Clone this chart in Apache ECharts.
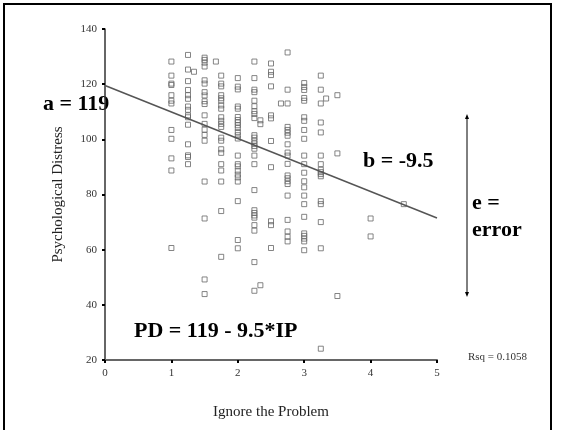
<!DOCTYPE html>
<html>
<head>
<meta charset="utf-8">
<script src="https://cdn.jsdelivr.net/npm/echarts@6/dist/echarts.min.js"></script>
<style>
  html, body { margin: 0; padding: 0; background: #fff; }
  #chart { width: 569px; height: 430px; }
</style>
</head>
<body>
<div id="chart"></div>
<script>
// Ignore the Problem (x) vs Psychological Distress (y), one array per x column
const ip100 = [128.2, 123.1, 120.2, 119.7, 116.0, 114.0, 113.0, 103.4, 100.2, 93.1, 88.7, 60.6]
const ip125 = [130.6, 125.3, 121.1, 117.9, 116.0, 114.7, 111.9, 110.7, 108.7, 108.0, 105.3, 98.2, 94.2, 93.6, 91.0]
const ip133 = [124.5]
const ip150 = [129.6, 128.8, 127.8, 126.4, 121.4, 120.2, 117.1, 115.9, 113.8, 112.8, 108.7, 105.6, 103.5, 101.6, 99.5, 84.7, 71.3, 49.2, 43.9]
const ip167 = [128.2]
const ip175 = [123.1, 120.2, 119.2, 116.0, 114.9, 114.0, 112.3, 111.1, 108.0, 106.7, 105.6, 104.5, 100.6, 99.5, 96.4, 95.1, 91.0, 88.7, 84.7, 74.0, 57.4]
const ip200 = [122.2, 119.1, 118.1, 111.9, 111.1, 108.1, 107.0, 106.1, 105.1, 104.1, 102.6, 101.5, 100.3, 94.1, 91.0, 90.2, 88.6, 87.2, 86.2, 84.7, 77.6, 63.5, 60.5]
const ip225 = [128.2, 122.2, 118.0, 117.1, 114.0, 112.0, 110.2, 109.2, 107.7, 101.5, 100.6, 99.5, 98.5, 97.6, 96.6, 94.1, 91.0, 81.6, 74.3, 73.3, 72.4, 71.6, 68.9, 66.9, 55.5, 45.1]
const ip233 = [106.9, 105.5, 47.1]
const ip250 = [127.5, 124.5, 123.3, 119.2, 108.7, 107.6, 99.4, 89.9, 70.3, 68.9, 60.6]
const ip267 = [113.0]
const ip275 = [131.5, 118.0, 113.0, 104.5, 103.4, 102.4, 101.3, 98.2, 95.2, 94.1, 91.1, 86.9, 85.9, 84.8, 83.8, 79.6, 70.8, 66.6, 64.7, 63.0]
const ip300 = [120.4, 119.0, 117.9, 115.0, 114.0, 108.0, 106.7, 103.4, 100.2, 94.1, 91.0, 87.9, 84.8, 82.6, 79.6, 76.5, 71.9, 65.9, 65.0, 64.0, 63.0, 59.8]
const ip325 = [123.1, 118.0, 113.0, 106.1, 102.5, 94.1, 91.0, 89.0, 88.1, 87.4, 86.6, 77.6, 76.5, 70.0, 60.5, 24.1]
const ip333 = [114.8]
const ip350 = [116.0, 94.9, 43.2]
const ip400 = [71.3, 64.8]
const ip450 = [76.5]

const columnX = [1, 1.25, 1.34, 1.5, 1.67, 1.75, 2, 2.25, 2.34, 2.5, 2.65, 2.75, 3, 3.25, 3.33, 3.5, 4, 4.5]
const columnY = [ip100, ip125, ip133, ip150, ip167, ip175, ip200, ip225, ip233, ip250, ip267, ip275, ip300, ip325, ip333, ip350, ip400, ip450]

// fitted line PD = 119 - 9.5*IP
const fitX = [0, 5]
const fitY = [119.5, 71.5]

const xTicks = [0, 1, 2, 3, 4, 5]
const yTicks = [20, 40, 60, 80, 100, 120, 140]

let points = []
for (let i = 0; i < columnX.length; i++) {
  for (let j = 0; j < columnY[i].length; j++) {
    points.push([columnX[i], columnY[i][j]])
  }
}

const serif = '"Liberation Serif", "Times New Roman", serif'

function label(text, x, y, size, bold, color) {
  return {
    type: 'text',
    x: x,
    y: y,
    style: {
      text: text,
      fill: color || '#000',
      font: (bold ? 'bold ' : '') + size + 'px ' + serif,
      textVerticalAlign: 'middle',
      verticalAlign: 'middle'
    }
  }
}

let chart = echarts.init(document.getElementById('chart'))
chart.setOption({
  animation: false,
  backgroundColor: '#fff',
  grid: {
    left: 105,
    right: 132,
    top: 29,
    bottom: 70
  },
  xAxis: {
    type: 'value',
    min: xTicks[0],
    max: xTicks[xTicks.length - 1],
    interval: 1,
    name: 'Ignore the Problem',
    nameLocation: 'middle',
    nameGap: 45,
    nameTextStyle: { fontFamily: serif, fontSize: 15, color: '#222' },
    axisLine: { lineStyle: { color: '#666', width: 2 } },
    axisTick: { length: 3, lineStyle: { color: '#000', width: 2 } },
    axisLabel: { margin: 8, fontFamily: serif, fontSize: 11, color: '#333' },
    splitLine: { show: false }
  },
  yAxis: {
    type: 'value',
    min: yTicks[0],
    max: yTicks[yTicks.length - 1],
    interval: 20,
    name: 'Psychological Distress',
    nameLocation: 'middle',
    nameGap: 39,
    nameTextStyle: { fontFamily: serif, fontSize: 15, color: '#222' },
    axisLine: { show: true, lineStyle: { color: '#333', width: 1.5 } },
    axisTick: { show: true, length: 3, lineStyle: { color: '#000', width: 2 } },
    axisLabel: { margin: 8, fontFamily: serif, fontSize: 11, color: '#333' },
    splitLine: { show: false }
  },
  series: [
    {
      type: 'scatter',
      data: points,
      symbol: 'rect',
      symbolSize: 5,
      itemStyle: {
        color: 'rgba(0,0,0,0)',
        borderColor: '#666',
        borderWidth: 1
      }
    },
    {
      type: 'line',
      data: fitX.map((x, i) => [x, fitY[i]]),
      symbol: 'none',
      lineStyle: { color: '#555', width: 1.5 }
    }
  ],
  graphic: [
    {
      type: 'rect',
      shape: { x: 4, y: 4, width: 547, height: 440 },
      style: { fill: 'none', stroke: '#000', lineWidth: 2 }
    },
    label('a = 119', 43, 104, 22, true),
    label('b = -9.5', 363, 161, 22, true),
    label('e =', 472, 203, 22, true),
    label('error', 472, 230, 22, true),
    label('PD = 119 - 9.5*IP', 134, 331, 22, true),
    label('Rsq = 0.1058', 468, 357, 11, false, '#333'),
    // double headed arrow for the error range
    {
      type: 'line',
      shape: { x1: 467, y1: 117, x2: 467, y2: 294 },
      style: { stroke: '#000', lineWidth: 1 }
    },
    {
      type: 'polygon',
      shape: { points: [[467, 114], [465, 119], [469, 119]] },
      style: { fill: '#000' }
    },
    {
      type: 'polygon',
      shape: { points: [[467, 297], [465, 292], [469, 292]] },
      style: { fill: '#000' }
    }
  ]
})
</script>
</body>
</html>
